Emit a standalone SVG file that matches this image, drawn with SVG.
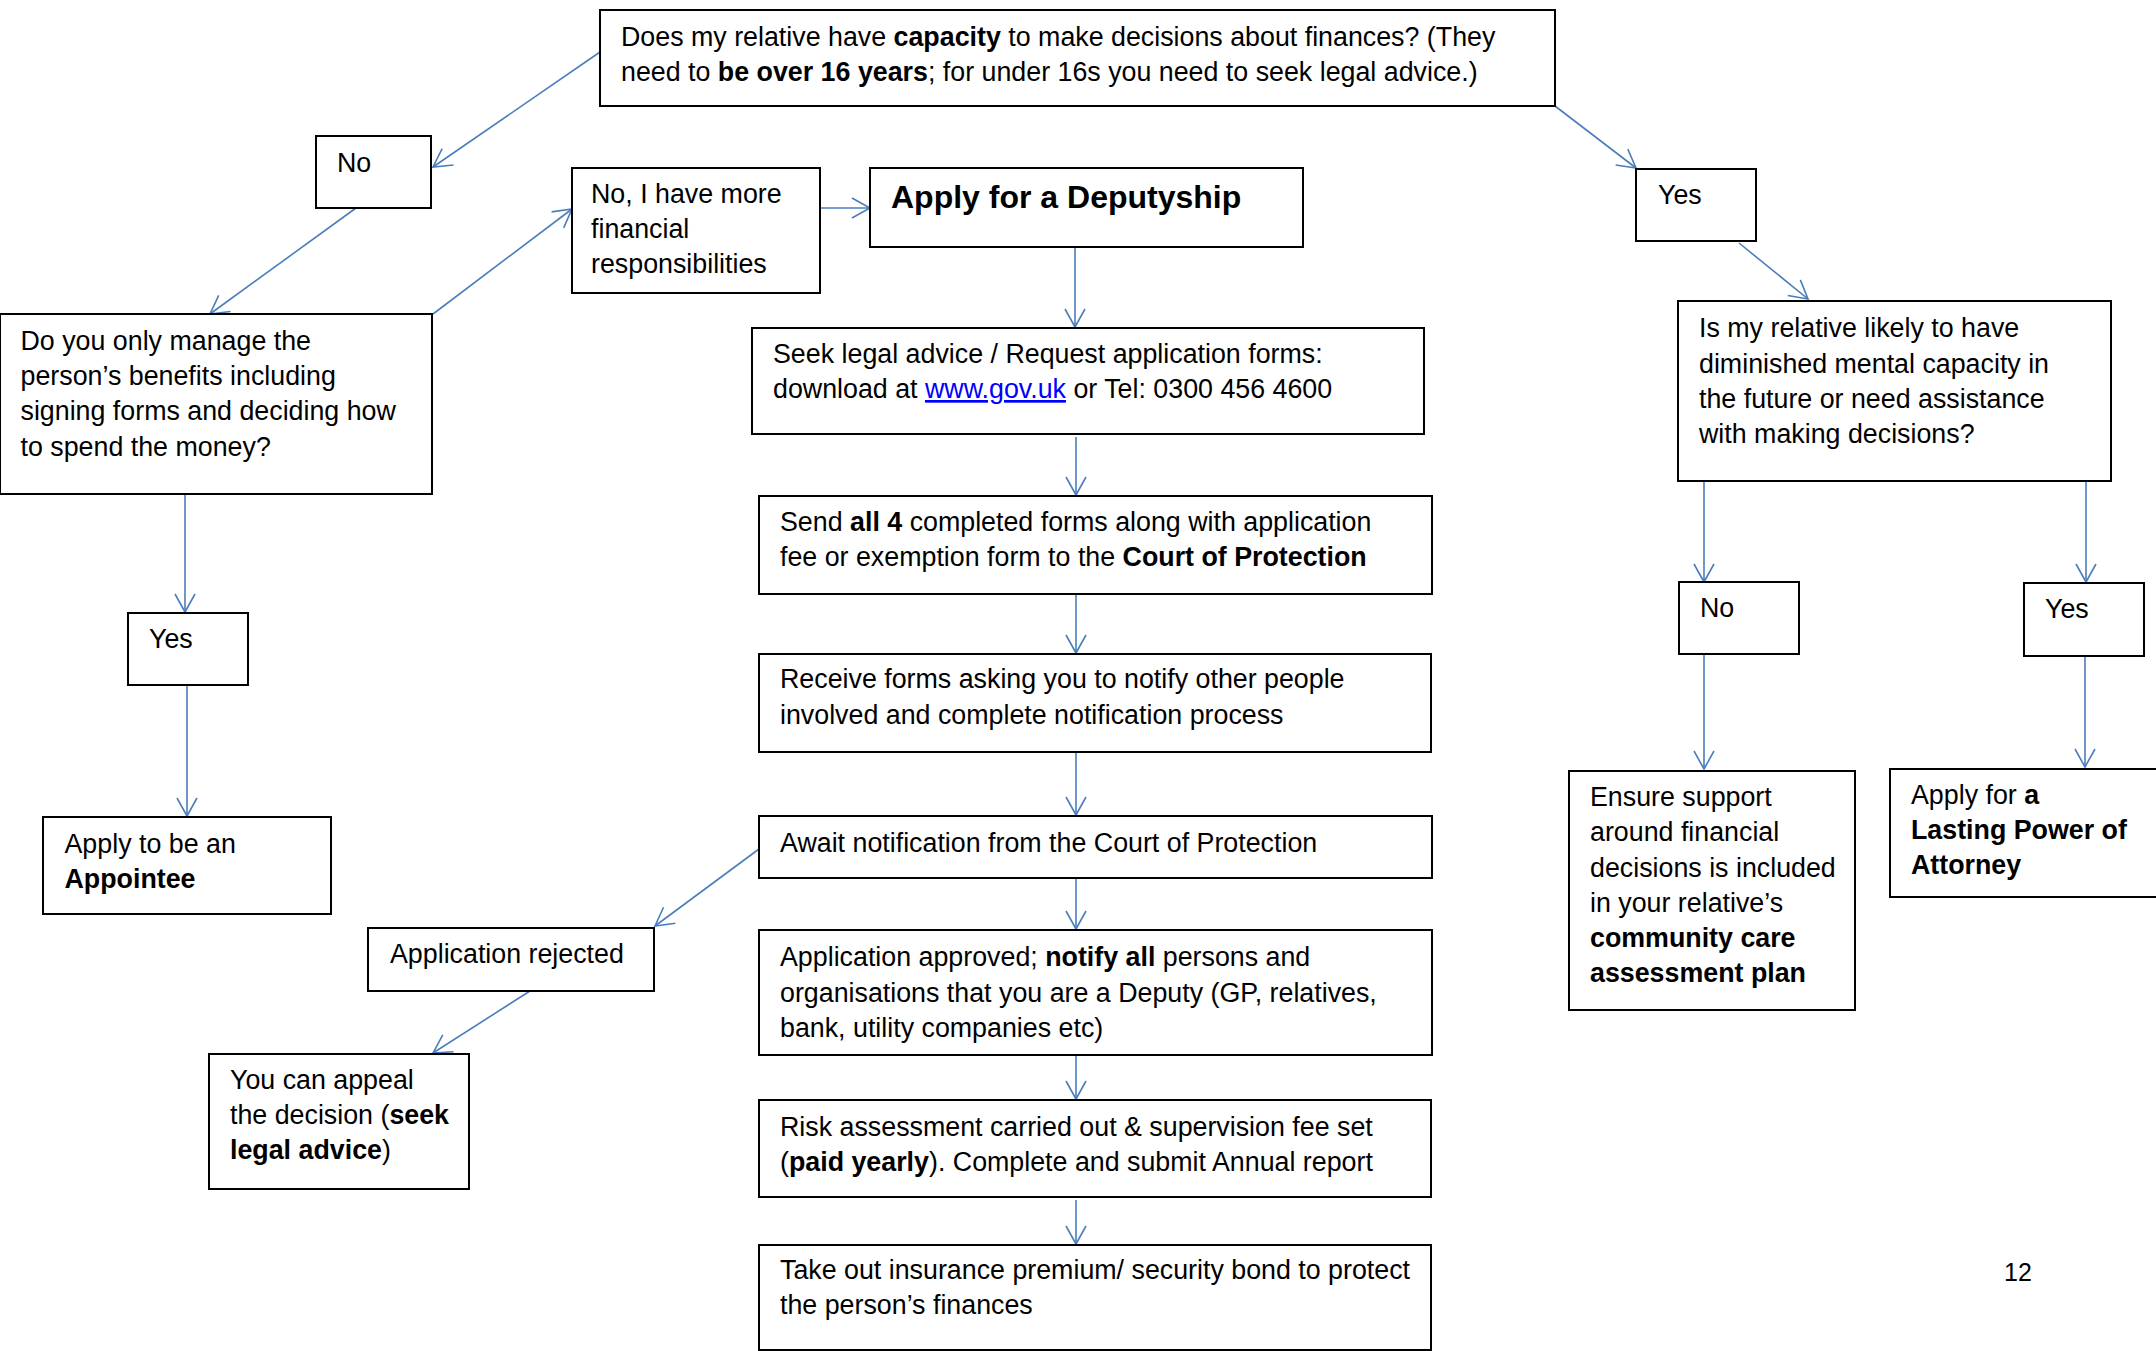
<svg xmlns="http://www.w3.org/2000/svg" width="2156" height="1351" viewBox="0 0 2156 1351">
<style>
.box{fill:#fff;stroke:#000;stroke-width:2}
.t{font-family:"Liberation Sans",Arial,sans-serif;font-size:26.8px;fill:#000}
.b{font-weight:bold}
.h{font-family:"Liberation Sans",Arial,sans-serif;font-size:32px;font-weight:bold;fill:#000}
.lnk{fill:#0000ff;text-decoration:underline}
.conn{stroke:#4a7ebb;stroke-width:1.6;fill:none;marker-end:url(#arr)}
</style>
<defs>
<marker id="arr" markerUnits="userSpaceOnUse" viewBox="-20 -12 22 24" refX="0" refY="0" markerWidth="22" markerHeight="24" orient="auto">
<path d="M-18,-10 L0,0 L-18,10" fill="none" stroke="#4a7ebb" stroke-width="1.6"/>
</marker>
</defs>
<rect width="2156" height="1351" fill="#fff"/>

<g id="connectors">
<line class="conn" x1="600" y1="52" x2="433" y2="167"/>
<line class="conn" x1="1555" y1="106" x2="1636" y2="168"/>
<line class="conn" x1="356" y1="208" x2="210" y2="314"/>
<line class="conn" x1="433" y1="314" x2="572" y2="209"/>
<line class="conn" x1="820" y1="208" x2="870" y2="208"/>
<line class="conn" x1="1075" y1="247" x2="1075" y2="327"/>
<line class="conn" x1="1739" y1="243" x2="1808" y2="299"/>
<line class="conn" x1="185" y1="494" x2="185" y2="612"/>
<line class="conn" x1="1076" y1="437" x2="1076" y2="495"/>
<line class="conn" x1="1704" y1="481" x2="1704" y2="582"/>
<line class="conn" x1="2086" y1="481" x2="2086" y2="582"/>
<line class="conn" x1="1076" y1="594" x2="1076" y2="653"/>
<line class="conn" x1="187" y1="685" x2="187" y2="816"/>
<line class="conn" x1="1704" y1="654" x2="1704" y2="769"/>
<line class="conn" x1="2085" y1="656" x2="2085" y2="767"/>
<line class="conn" x1="1076" y1="752" x2="1076" y2="815"/>
<line class="conn" x1="759" y1="849" x2="655" y2="926"/>
<line class="conn" x1="1076" y1="878" x2="1076" y2="929"/>
<line class="conn" x1="530" y1="991" x2="433" y2="1053"/>
<line class="conn" x1="1076" y1="1055" x2="1076" y2="1099"/>
<line class="conn" x1="1076" y1="1200" x2="1076" y2="1244"/>
</g>

<g id="capacity">
<rect class="box" x="600" y="10" width="955" height="96"/>
<text class="t" x="621" y="45.5">Does my relative have <tspan class="b">capacity</tspan> to make decisions about finances? (They</text>
<text class="t" x="621" y="81">need to <tspan class="b">be over 16 years</tspan>; for under 16s you need to seek legal advice.)</text>
</g>

<g id="no1">
<rect class="box" x="316" y="136" width="115" height="72"/>
<text class="t" x="337" y="172">No</text>
</g>

<g id="more-resp">
<rect class="box" x="572" y="168" width="248" height="125"/>
<text class="t" x="591" y="203">No, I have more</text>
<text class="t" x="591" y="238">financial</text>
<text class="t" x="591" y="273">responsibilities</text>
</g>

<g id="deputyship">
<rect class="box" x="870" y="168" width="433" height="79"/>
<text class="h" x="891" y="208">Apply for a Deputyship</text>
</g>

<g id="yes1">
<rect class="box" x="1636" y="169" width="120" height="72"/>
<text class="t" x="1658" y="204">Yes</text>
</g>

<g id="benefits">
<rect class="box" x="0" y="314" width="432" height="180"/>
<text class="t" x="20.5" y="350">Do you only manage the</text>
<text class="t" x="20.5" y="385">person’s benefits including</text>
<text class="t" x="20.5" y="420">signing forms and deciding how</text>
<text class="t" x="20.5" y="456">to spend the money?</text>
</g>

<g id="seek">
<rect class="box" x="752" y="328" width="672" height="106"/>
<text class="t" x="773" y="363">Seek legal advice / Request application forms:</text>
<text class="t" x="773" y="398">download at <tspan class="lnk">www.gov.uk</tspan> or Tel: 0300 456 4600</text>
</g>

<g id="likely">
<rect class="box" x="1678" y="301" width="433" height="180"/>
<text class="t" x="1699" y="337">Is my relative likely to have</text>
<text class="t" x="1699" y="373">diminished mental capacity in</text>
<text class="t" x="1699" y="408">the future or need assistance</text>
<text class="t" x="1699" y="443">with making decisions?</text>
</g>

<g id="send">
<rect class="box" x="759" y="496" width="673" height="98"/>
<text class="t" x="780" y="531">Send <tspan class="b">all 4</tspan> completed forms along with application</text>
<text class="t" x="780" y="566">fee or exemption form to the <tspan class="b">Court of Protection</tspan></text>
</g>

<g id="yes2">
<rect class="box" x="128" y="613" width="120" height="72"/>
<text class="t" x="149" y="648">Yes</text>
</g>

<g id="no2">
<rect class="box" x="1679" y="582" width="120" height="72"/>
<text class="t" x="1700" y="617">No</text>
</g>

<g id="yes3">
<rect class="box" x="2024" y="583" width="120" height="73"/>
<text class="t" x="2045" y="618">Yes</text>
</g>

<g id="receive">
<rect class="box" x="759" y="654" width="672" height="98"/>
<text class="t" x="780" y="688">Receive forms asking you to notify other people</text>
<text class="t" x="780" y="724">involved and complete notification process</text>
</g>

<g id="appointee">
<rect class="box" x="43" y="817" width="288" height="97"/>
<text class="t" x="64.5" y="853">Apply to be an</text>
<text class="t b" x="64.5" y="888">Appointee</text>
</g>

<g id="ensure">
<rect class="box" x="1569" y="771" width="286" height="239"/>
<text class="t" x="1590" y="806">Ensure support</text>
<text class="t" x="1590" y="841">around financial</text>
<text class="t" x="1590" y="876.5">decisions is included</text>
<text class="t" x="1590" y="912">in your relative’s</text>
<text class="t b" x="1590" y="947">community care</text>
<text class="t b" x="1590" y="982">assessment plan</text>
</g>

<g id="lpa">
<rect class="box" x="1890" y="769" width="280" height="128"/>
<text class="t" x="1911" y="804">Apply for <tspan class="b">a</tspan></text>
<text class="t b" x="1911" y="839">Lasting Power of</text>
<text class="t b" x="1911" y="874">Attorney</text>
</g>

<g id="await">
<rect class="box" x="759" y="816" width="673" height="62"/>
<text class="t" x="780" y="851.5">Await notification from the Court of Protection</text>
</g>

<g id="rejected">
<rect class="box" x="368" y="928" width="286" height="63"/>
<text class="t" x="390" y="963">Application rejected</text>
</g>

<g id="approved">
<rect class="box" x="759" y="930" width="673" height="125"/>
<text class="t" x="780" y="966">Application approved; <tspan class="b">notify all</tspan> persons and</text>
<text class="t" x="780" y="1002">organisations that you are a Deputy (GP, relatives,</text>
<text class="t" x="780" y="1037">bank, utility companies etc)</text>
</g>

<g id="appeal">
<rect class="box" x="209" y="1054" width="260" height="135"/>
<text class="t" x="230" y="1089">You can appeal</text>
<text class="t" x="230" y="1124">the decision (<tspan class="b">seek</tspan></text>
<text class="t" x="230" y="1159"><tspan class="b">legal advice</tspan>)</text>
</g>

<g id="risk">
<rect class="box" x="759" y="1100" width="672" height="97"/>
<text class="t" x="780" y="1136">Risk assessment carried out &amp; supervision fee set</text>
<text class="t" x="780" y="1170.5">(<tspan class="b">paid yearly</tspan>). Complete and submit Annual report</text>
</g>

<g id="insurance">
<rect class="box" x="759" y="1245" width="672" height="105"/>
<text class="t" x="780" y="1279">Take out insurance premium/ security bond to protect</text>
<text class="t" x="780" y="1314">the person’s finances</text>
</g>

<text x="2004" y="1281" font-family="'Liberation Sans',Arial,sans-serif" font-size="25" fill="#000">12</text>
</svg>
